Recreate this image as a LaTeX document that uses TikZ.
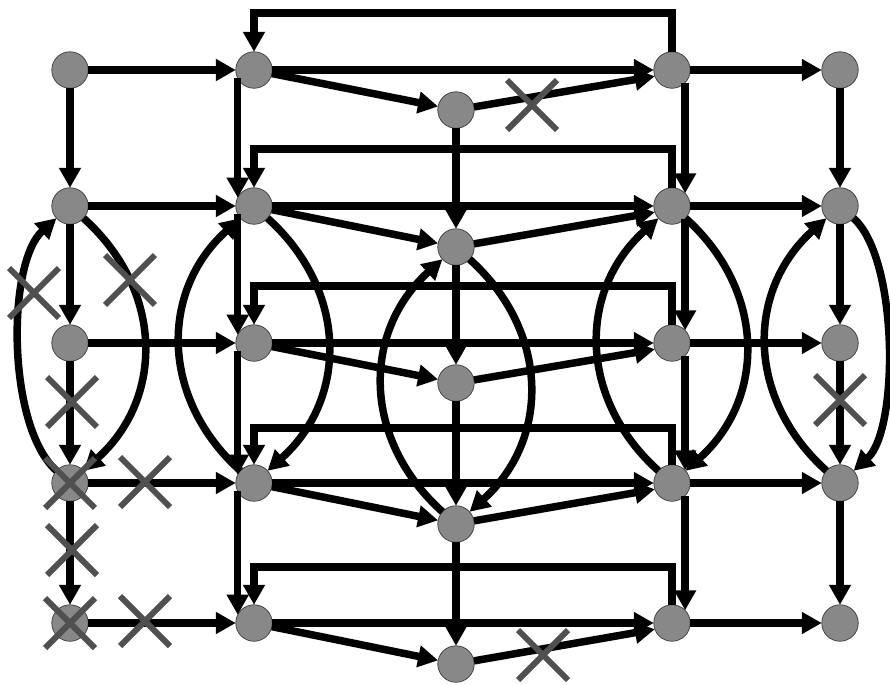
\documentclass[tikz,border=0pt]{standalone}
\usetikzlibrary{arrows.meta,shapes.misc}
\definecolor{cellgray}{RGB}{136,136,136}
\definecolor{rimgray}{RGB}{60,60,60}
\definecolor{nogray}{RGB}{80,80,80}
\begin{document}
\begin{tikzpicture}[
    x=0.02cm, y=0.02cm,
    cell/.style={circle, fill=cellgray, draw=rimgray, line width=0.4pt, minimum size=0.73cm, inner sep=0pt, outer sep=0pt},
    link/.style={line width=0.15cm, -{Triangle[length=0.4cm, width=0.42cm]}},
    swing/.style={link, bend left=48, looseness=1.1},
    nope/.style={cross out, draw=nogray, line width=0.12cm, minimum size=1cm, inner sep=0pt, outer sep=0pt}
  ]
    \useasboundingbox (0,0) rectangle (890,-684);

    \node[cell] (a1) at (70,-70) {};
    \node[cell] (b1) at (254,-70) {};
    \node[cell] (c1) at (456,-110) {};
    \node[cell] (d1) at (672,-70) {};
    \node[cell] (e1) at (840,-70) {};
    \node[cell] (a2) at (70,-206) {};
    \node[cell] (b2) at (254,-206) {};
    \node[cell] (c2) at (456,-247) {};
    \node[cell] (d2) at (672,-206) {};
    \node[cell] (e2) at (840,-206) {};
    \node[cell] (a3) at (70,-343) {};
    \node[cell] (b3) at (254,-343) {};
    \node[cell] (c3) at (456,-383) {};
    \node[cell] (d3) at (672,-343) {};
    \node[cell] (e3) at (840,-343) {};
    \node[cell] (a4) at (70,-483) {};
    \node[cell] (b4) at (254,-483) {};
    \node[cell] (c4) at (456,-524) {};
    \node[cell] (d4) at (672,-483) {};
    \node[cell] (e4) at (840,-483) {};
    \node[cell] (a5) at (70,-623) {};
    \node[cell] (b5) at (254,-623) {};
    \node[cell] (c5) at (456,-664) {};
    \node[cell] (d5) at (672,-623) {};
    \node[cell] (e5) at (840,-623) {};

    % rows
    \draw[link] (a1) -- (b1);
    \draw[link] (b1) -- (d1);
    \draw[link] (b1) -- (c1);
    \draw[link] (c1) -- (d1.200);
    \draw[link] (d1) -- (e1);
    \draw[link] (d1.north) -- ++(0,39) -| (b1.north);
    \draw[link] (a2) -- (b2);
    \draw[link] (b2) -- (d2);
    \draw[link] (b2) -- (c2);
    \draw[link] (c2) -- (d2.200);
    \draw[link] (d2) -- (e2);
    \draw[link] (d2.north) -- ++(0,39) -| (b2.north);
    \draw[link] (a3) -- (b3);
    \draw[link] (b3) -- (d3);
    \draw[link] (b3) -- (c3);
    \draw[link] (c3) -- (d3.200);
    \draw[link] (d3) -- (e3);
    \draw[link] (d3.north) -- ++(0,39) -| (b3.north);
    \draw[link] (a4) -- (b4);
    \draw[link] (b4) -- (d4);
    \draw[link] (b4) -- (c4);
    \draw[link] (c4) -- (d4.200);
    \draw[link] (d4) -- (e4);
    \draw[link] (d4.north) -- ++(0,37) -| (b4.north);
    \draw[link] (a5) -- (b5);
    \draw[link] (b5) -- (d5);
    \draw[link] (b5) -- (c5);
    \draw[link] (c5) -- (d5.200);
    \draw[link] (d5) -- (e5);
    \draw[link] (d5.north) -- ++(0,38) -| (b5.north);

    % columns
    \draw[link] (a1) -- (a2);
    \draw[link] (a2) -- (a3);
    \draw[link] (a3) -- (a4);
    \draw[link] (a4) -- (a5);
    \draw[link] (b1.207) -- (b2.153);
    \draw[link] (b2.207) -- (b3.153);
    \draw[link] (b3.207) -- (b4.153);
    \draw[link] (b4.207) -- (b5.153);
    \draw[link] (c1) -- (c2);
    \draw[link] (c2) -- (c3);
    \draw[link] (c3) -- (c4);
    \draw[link] (c4) -- (c5);
    \draw[link] (d1.-44) -- (d2.44);
    \draw[link] (d2.-44) -- (d3.44);
    \draw[link] (d3.-44) -- (d4.44);
    \draw[link] (d4.-44) -- (d5.44);
    \draw[link] (e1) -- (e2);
    \draw[link] (e2) -- (e3);
    \draw[link] (e3) -- (e4);
    \draw[link] (e4) -- (e5);

    % loops between rows 2 and 4
    \draw[swing] (a4) to[looseness=0.68] (a2);
    \draw[swing] (a2) to (a4);
    \draw[swing] (b4) to (b2);
    \draw[swing] (b2) to (b4);
    \draw[swing] (c4) to (c2);
    \draw[swing] (c2) to (c4);
    \draw[swing] (d4) to (d2);
    \draw[swing] (d2) to (d4);
    \draw[swing] (e4) to (e2);
    \draw[swing] (e2) to[looseness=0.62] (e4);

    \node[nope] (x1) at (532,-105) {};
    \node[nope] (x2) at (34,-293) {};
    \node[nope] (x3) at (130,-280) {};
    \node[nope] (x4) at (72,-402) {};
    \node[nope] (x5) at (70,-483) {};
    \node[nope] (x6) at (145,-482) {};
    \node[nope] (x7) at (72,-550) {};
    \node[nope] (x8) at (70,-623) {};
    \node[nope] (x9) at (145,-621) {};
    \node[nope] (x10) at (840,-400) {};
    \node[nope] (x11) at (543,-655) {};
\end{tikzpicture}
\end{document}
